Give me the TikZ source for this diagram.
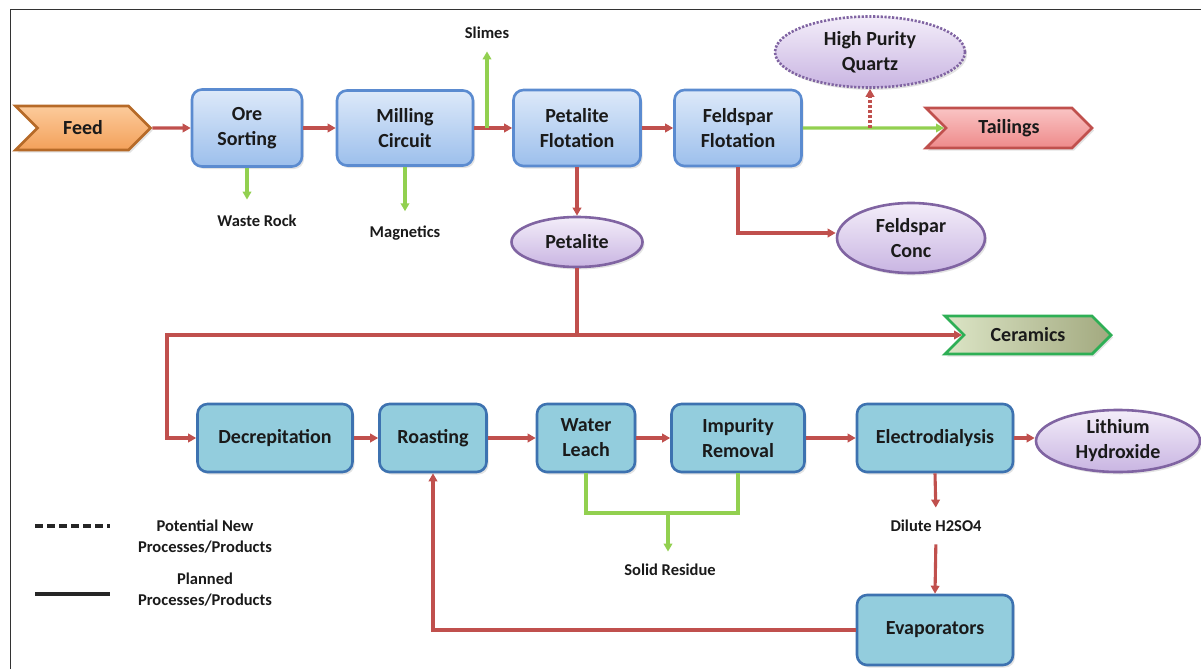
\documentclass[tikz,border=0pt]{standalone}
\usepackage{fontspec}
\setmainfont{Carlito}
\usetikzlibrary{shapes.geometric,shapes.symbols,arrows.meta,shadows}
\definecolor{redl}{HTML}{C0504D}
\definecolor{greenl}{HTML}{92D050}
\definecolor{txt}{HTML}{1A1A1A}
\definecolor{topdraw}{HTML}{5B8BD0}
\definecolor{toptop}{HTML}{DDE9F9}
\definecolor{topbot}{HTML}{9CBFEC}
\definecolor{botdraw}{HTML}{3D72B0}
\definecolor{botfill}{HTML}{93CDDD}
\definecolor{prodraw}{HTML}{8064A2}
\definecolor{protop}{HTML}{F3EDF9}
\definecolor{probot}{HTML}{C9B5E2}
\definecolor{feedtop}{HTML}{FCCB9B}
\definecolor{feedbot}{HTML}{F3A05A}
\definecolor{feeddraw}{HTML}{B66A28}
\definecolor{tailtop}{HTML}{FAC4C4}
\definecolor{tailbot}{HTML}{EE8A8A}
\definecolor{ceramL}{HTML}{DCE5C6}
\definecolor{ceramR}{HTML}{A2A97F}
\definecolor{ceramdraw}{HTML}{2EAF55}
\begin{document}
\begin{tikzpicture}[x=1pt,y=-1pt,
  shd/.style={drop shadow={shadow xshift=2pt,shadow yshift=-2.5pt,opacity=0.22}},
  bigtxt/.style={font=\fontsize{20}{25}\selectfont\bfseries, text=txt, align=center},
  smalltxt/.style={font=\fontsize{16.5}{21}\selectfont\bfseries, text=txt, align=center},
  topbox/.style={bigtxt, shd, rectangle, rounded corners=10pt, draw=topdraw, line width=2.6pt,
     top color=toptop, bottom color=topbot, inner sep=0pt},
  botbox/.style={bigtxt, shd, rectangle, rounded corners=10pt, draw=botdraw, line width=2.6pt,
     fill=botfill, inner sep=0pt},
  prod/.style={bigtxt, shd, ellipse, draw=prodraw, line width=2.6pt,
     top color=protop, bottom color=probot, inner sep=0pt},
  chev/.style={bigtxt, shd, shape=signal, signal from=west, signal to=east,
     signal pointer angle=90, line width=2.8pt, inner sep=0pt},
  ra/.style={draw=redl, line width=3.1pt, -{Triangle[length=8pt,width=8.5pt]}},
  ga/.style={draw=greenl, line width=3.1pt, -{Triangle[length=8pt,width=8.5pt]}},
  gl/.style={draw=greenl, line width=3.1pt},
  frame/.style={draw=black!80, line width=1pt}
]
\useasboundingbox (0,0) rectangle (1201,669);
\draw[frame] (10,669) -- (10,10) -- (1201,10);

% top row
\node[chev, top color=feedtop, bottom color=feedbot, draw=feeddraw,
      minimum width=135, minimum height=44] (feed) at (83,128) {Feed};
\node[topbox, minimum width=110, minimum height=77] (ore) at (247,128) {Ore\\Sorting};
\node[topbox, minimum width=136, minimum height=75] (mill) at (405,128) {Milling\\Circuit};
\node[topbox, minimum width=127, minimum height=76] (pflot) at (577,128) {Petalite\\Flotation};
\node[topbox, minimum width=127, minimum height=76] (fflot) at (738,128) {Feldspar\\Flotation};
\node[chev, top color=tailtop, bottom color=tailbot, draw=redl,
      minimum width=166, minimum height=40] (tail) at (1009,128) {Tailings};
\node[prod, dash pattern=on 2.2pt off 1.6pt, minimum width=190, minimum height=71] (hpq) at (870,52) {High Purity\\Quartz};
\node[prod, minimum width=131, minimum height=50] (pet) at (577,242) {Petalite};
\node[prod, minimum width=148, minimum height=70] (fconc) at (911,238) {Feldspar\\Conc};
\node[chev, left color=ceramL, right color=ceramR, draw=ceramdraw,
      minimum width=166, minimum height=38] (cer) at (1028,335) {Ceramics};

% small labels
\node[smalltxt] (slimes) at (487,33) {Slimes};
\node[smalltxt] (wrock) at (257,221) {Waste Rock};
\node[smalltxt] (mag) at (405,233) {Magnetics};

% bottom row
\node[botbox, minimum width=155, minimum height=68] (dec) at (275,438) {Decrepitation};
\node[botbox, minimum width=107, minimum height=68] (roast) at (433,438) {Roasting};
\node[botbox, minimum width=98, minimum height=68] (wl) at (586,438) {Water\\Leach};
\node[botbox, minimum width=133, minimum height=68] (imp) at (738,438) {Impurity\\Removal};
\node[botbox, minimum width=156, minimum height=68] (elec) at (935,438) {Electrodialysis};
\node[prod, minimum width=164, minimum height=62] (lioh) at (1118,441) {Lithium\\Hydroxide};
\node[botbox, minimum width=156, minimum height=70] (evap) at (935,630) {Evaporators};
\node[smalltxt] (solid) at (670,570) {Solid Residue};
\node[smalltxt] (dil) at (936,526) {Dilute H2SO4};

% legend
\coordinate (d1) at (35,526); \coordinate (d2) at (110,526);
\coordinate (s1) at (35,594); \coordinate (s2) at (110,594);
\draw[line width=3.8pt, black!85, dash pattern=on 8pt off 4pt] (d1) -- (d2);
\draw[line width=3.8pt, black!85] (s1) -- (s2);
\node[smalltxt] (leg1) at (205,537) {Potential New\\Processes/Products};
\node[smalltxt] (leg2) at (205,590) {Planned\\Processes/Products};

% connectors top
\draw[ra] (feed) -- (ore);
\draw[ra] (ore) -- (mill);
\draw[ra] (mill) -- (pflot);
\coordinate (slb) at (487,128);
\draw[ga, shorten >=9pt] (slb) -- (slimes.south);
\draw[ga, shorten >=12pt] (ore.south) -- (ore.south |- wrock.north);
\draw[ga, shorten >=11pt] (mill.south) -- (mill.south |- mag.north);
\draw[ra] (pflot) -- (fflot);
\draw[ga] (fflot) -- (tail);
\coordinate (hq) at (870,128);
\draw[ra, dash pattern=on 3pt off 2pt] (hq) -- (hpq);
\draw[ra] (pflot) -- (pet);
\draw[ra] (fflot.south) |- ([yshift=5pt]fconc.west);

% petalite split
\coordinate (lc) at (167,335);
\draw[ra] (pet.south) |- (cer);
\draw[ra] (pet.south |- lc) -- (lc) |- (dec);

% connectors bottom
\draw[ra] (dec) -- (roast);
\draw[ra] (roast) -- (wl);
\draw[ra] (wl) -- (imp);
\draw[ra] (imp) -- (elec);
\draw[ra] (elec.east) -- (elec.east -| lioh.west);
\coordinate (gy) at (668,513);
\draw[gl] (wl.south) |- (gy) -| (imp.south);
\draw[ga, shorten >=9pt] (gy) -- (gy |- solid.north);
\draw[ra, shorten >=9pt] (elec.south) -- (dil.north);
\draw[ra, shorten <=9pt] (dil.south) -- (evap.north);
\draw[ra] (evap.west) -| (roast.south);
\end{tikzpicture}
\end{document}
